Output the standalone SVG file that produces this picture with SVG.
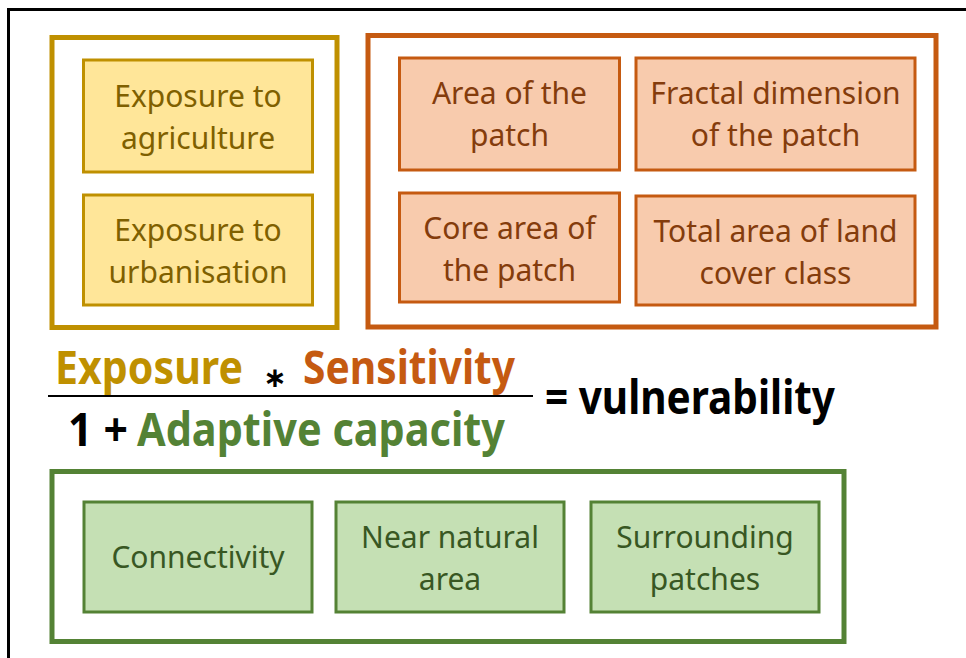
<svg xmlns="http://www.w3.org/2000/svg" width="966" height="658" viewBox="0 0 966 658">
<style>
.bt{font-family:"Noto Sans","Liberation Sans",sans-serif;font-size:30px;text-anchor:middle}
.ft{font-family:"Noto Sans","Liberation Sans",sans-serif;font-weight:bold;font-size:46px}
.yo{fill:none;stroke:#BF9000;stroke-width:5}
.yi{fill:#FFE699;stroke:#BF9000;stroke-width:3}
.yt{fill:#7F6000}
.oo{fill:none;stroke:#C55A11;stroke-width:5}
.oi{fill:#F8CBAD;stroke:#C55A11;stroke-width:3}
.ot{fill:#843C0C}
.go{fill:none;stroke:#548235;stroke-width:5}
.gi{fill:#C5E0B4;stroke:#548235;stroke-width:3}
.gt{fill:#385723}
</style>
<rect width="966" height="658" fill="#ffffff"/>
<rect x="8.5" y="9.5" width="1000" height="700" fill="none" stroke="#000" stroke-width="3"/>

<g id="exposure-group">
<rect class="yo" x="52" y="37.5" width="285" height="290"/>
<g id="exp-agri">
<rect class="yi" x="83.5" y="60" width="229" height="112"/>
<text class="bt yt" x="198" y="107">Exposure to</text>
<text class="bt yt" x="198" y="149">agriculture</text>
</g>
<g id="exp-urban">
<rect class="yi" x="83.5" y="195" width="229" height="110"/>
<text class="bt yt" x="198" y="241">Exposure to</text>
<text class="bt yt" x="198" y="283">urbanisation</text>
</g>
</g>

<g id="sensitivity-group">
<rect class="oo" x="368" y="35.5" width="568" height="291.5"/>
<g id="area-patch">
<rect class="oi" x="399.5" y="58" width="220" height="112"/>
<text class="bt ot" x="509.5" y="104">Area of the</text>
<text class="bt ot" x="509.5" y="146">patch</text>
</g>
<g id="fractal">
<rect class="oi" x="636" y="58" width="279" height="112"/>
<text class="bt ot" x="775.5" y="104">Fractal dimension</text>
<text class="bt ot" x="775.5" y="146">of the patch</text>
</g>
<g id="core-area">
<rect class="oi" x="399.5" y="193" width="220" height="109"/>
<text class="bt ot" x="509.5" y="239">Core area of</text>
<text class="bt ot" x="509.5" y="281">the patch</text>
</g>
<g id="total-area">
<rect class="oi" x="636" y="196" width="279" height="109"/>
<text class="bt ot" x="775.5" y="242">Total area of land</text>
<text class="bt ot" x="775.5" y="284">cover class</text>
</g>
</g>

<g id="formula">
<text class="ft" x="55" y="384" fill="#BF9000" textLength="188" lengthAdjust="spacingAndGlyphs">Exposure</text>
<text x="275" y="387" font-family="DejaVu Sans,sans-serif" font-weight="bold" font-size="28" text-anchor="middle" fill="#000">∗</text>
<text class="ft" x="303" y="384" fill="#C55A11" textLength="212" lengthAdjust="spacingAndGlyphs">Sensitivity</text>
<line x1="48" y1="396" x2="533" y2="396" stroke="#000" stroke-width="2"/>
<text class="ft" x="68" y="446" fill="#000" textLength="60" lengthAdjust="spacingAndGlyphs">1 +</text>
<text class="ft" x="137" y="446" fill="#548235" textLength="368" lengthAdjust="spacingAndGlyphs">Adaptive capacity</text>
<text class="ft" x="545" y="414" fill="#000" textLength="290" lengthAdjust="spacingAndGlyphs">= vulnerability</text>
</g>

<g id="adaptive-group">
<rect class="go" x="52" y="471.5" width="792" height="170"/>
<g id="connectivity">
<rect class="gi" x="84" y="502" width="228" height="110"/>
<text class="bt gt" x="198" y="568">Connectivity</text>
</g>
<g id="near-natural">
<rect class="gi" x="336" y="502" width="228" height="110"/>
<text class="bt gt" x="450" y="548">Near natural</text>
<text class="bt gt" x="450" y="590">area</text>
</g>
<g id="surrounding">
<rect class="gi" x="591" y="502" width="228" height="110"/>
<text class="bt gt" x="705" y="548">Surrounding</text>
<text class="bt gt" x="705" y="590">patches</text>
</g>
</g>
<g id="connectors"></g>
</svg>
